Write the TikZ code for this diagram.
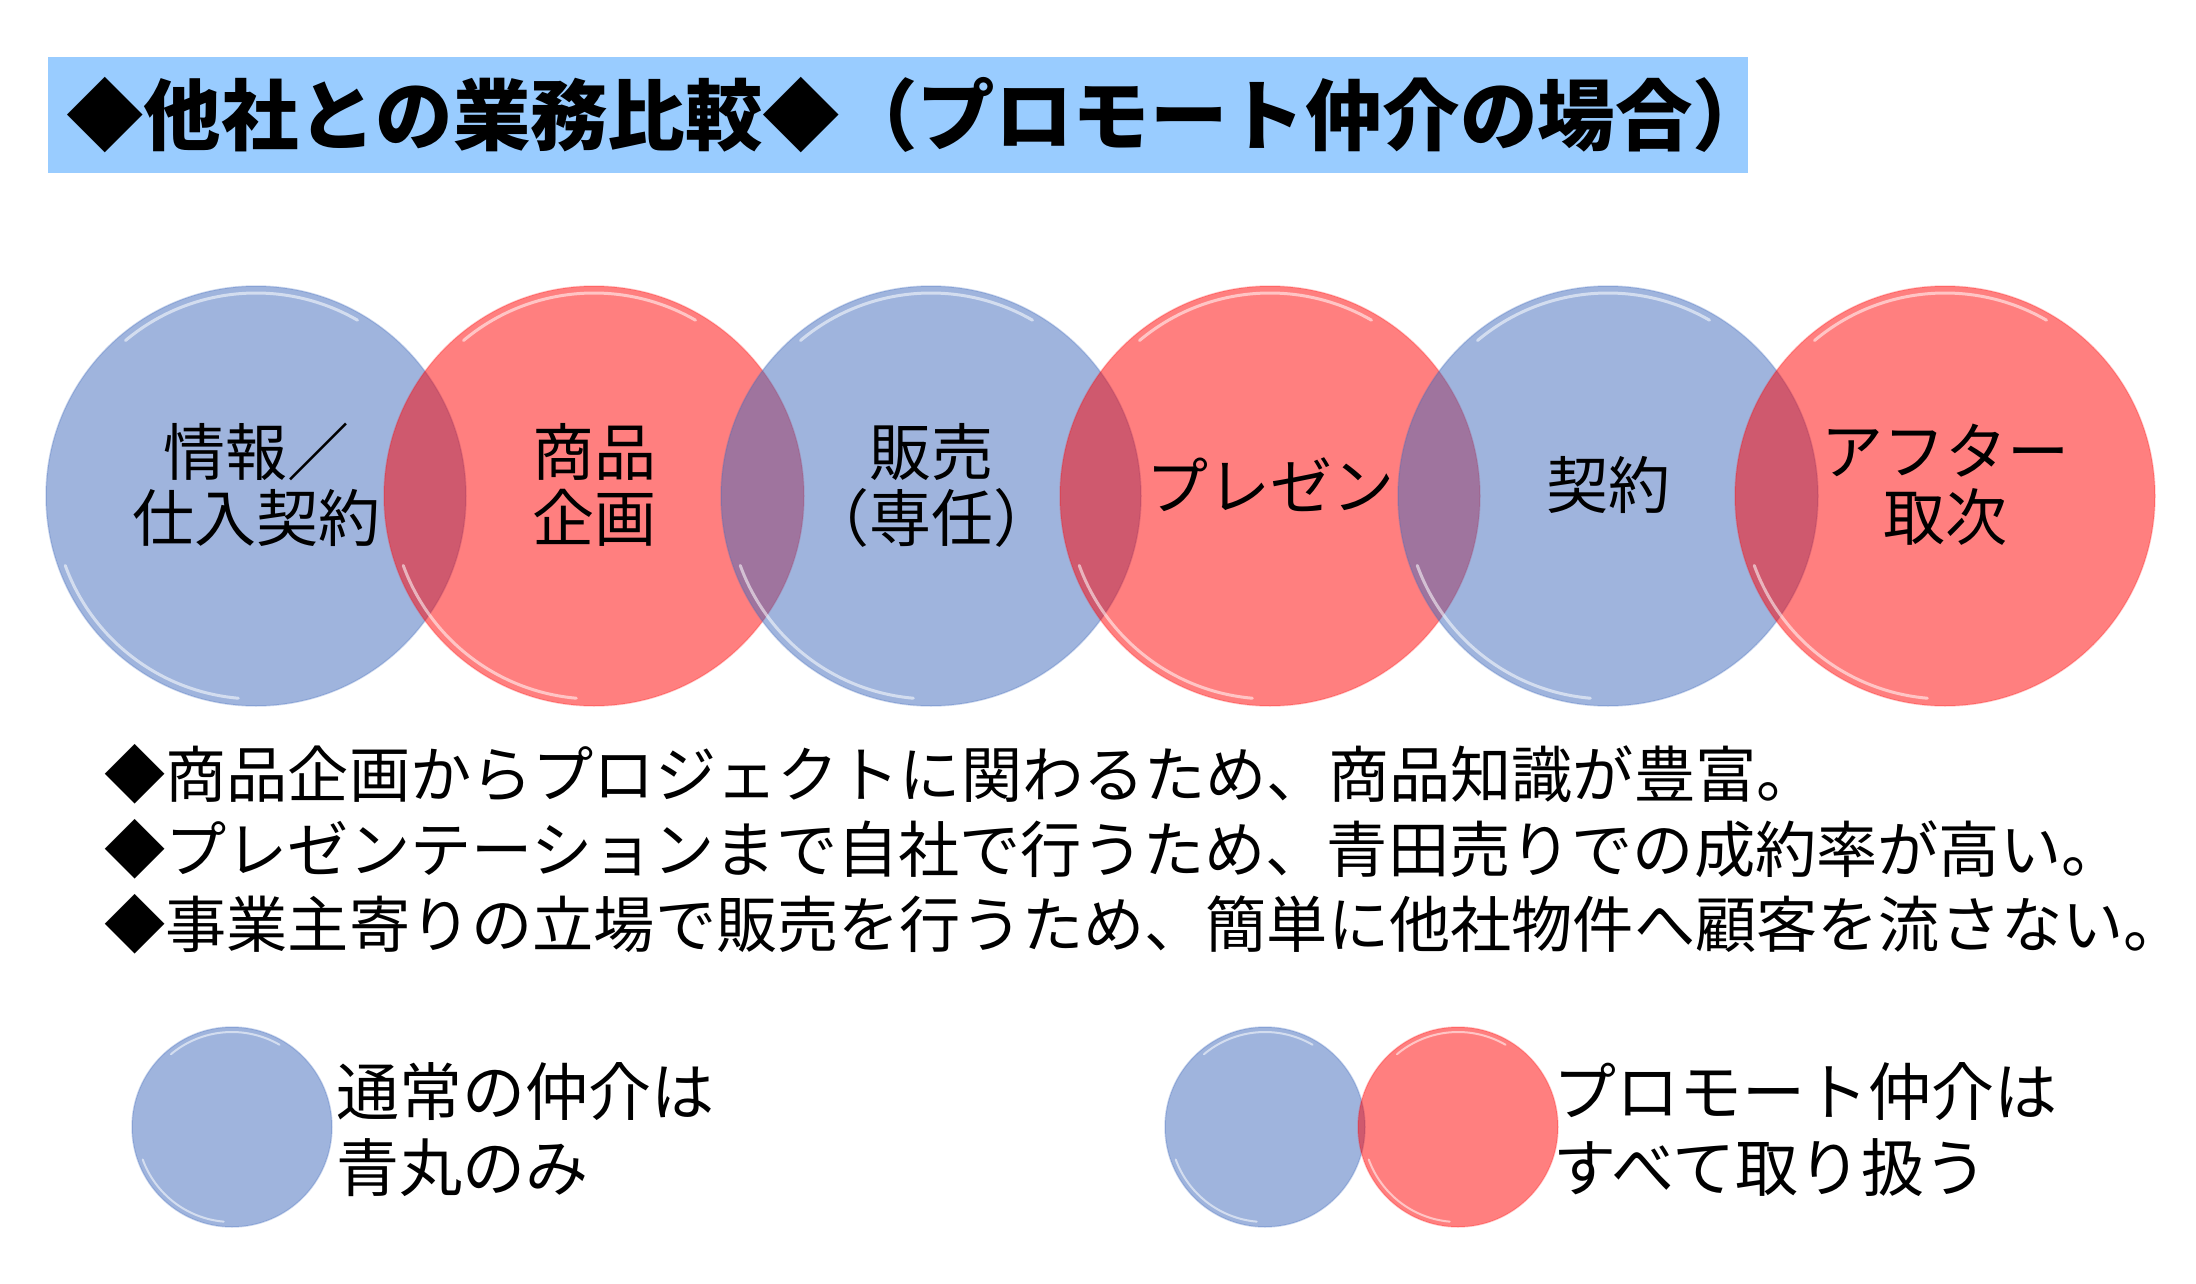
\documentclass[tikz,border=0pt]{standalone}
\usepackage{fontspec}
\setmainfont{Noto Sans CJK JP}
\definecolor{titlebg}{RGB}{153,204,255}
\definecolor{blueC}{RGB}{65,107,189}
\definecolor{redC}{RGB}{255,0,0}
\tikzset{
  bc/.style={circle, inner sep=0pt, minimum size=#1, fill=blueC, fill opacity=0.5, draw=blueC, draw opacity=0.25, line width=1.5pt},
  rc/.style={circle, inner sep=0pt, minimum size=#1, fill=redC, fill opacity=0.5, draw=redC, draw opacity=0.2, line width=1.5pt},
  gloss/.style={white, opacity=0.55, line width=3pt, line cap=round},
  lbl/.style={align=center, text=black, font=\fontsize{62}{66}\selectfont},
  bullet/.style={anchor=west, text=black, font=\fontsize{61.2}{66}\selectfont, inner sep=0pt},
  legtxt/.style={anchor=west, align=left, text=black, font=\fontsize{63}{76}\selectfont, inner sep=0pt},
}
\begin{document}
\begin{tikzpicture}[x=1pt,y=-1pt]
\useasboundingbox (0,0) rectangle (2196,1284);
\fill[white] (0,0) rectangle (2196,1284);
% title
\node[fill=titlebg, minimum width=1700pt, minimum height=116pt, anchor=north west, inner sep=0pt] (bar) at (48,57) {};
\node[anchor=west, inner sep=0pt, font=\fontsize{77.5}{80}\selectfont\bfseries] (title) at (66,115) {◆他社との業務比較◆（プロモート仲介の場合）};
% circles
\node[bc=420pt] (c1) at (256,496) {};
\node[rc=420pt] (c2) at (594,496) {};
\node[bc=420pt] (c3) at (931,496) {};
\node[rc=420pt] (c4) at (1270,496) {};
\node[bc=420pt] (c5) at (1608,496) {};
\node[rc=420pt] (c6) at (1945,496) {};
\foreach \c in {c1,c2,c3,c4,c5,c6}{
  \draw[gloss] ([shift={(-130:203)}]\c.center) arc[start angle=-130, end angle=-60, radius=203];
  \draw[gloss] ([shift={(95:203)}]\c.center) arc[start angle=95, end angle=160, radius=203];
}
\node[lbl] (t1) at (256,485) {情報／\\仕入契約};
\node[lbl] (t2) at (594,485) {商品\\企画};
\node[lbl] (t3) at (931,485) {販売\\（専任）};
\node[lbl] (t4) at (1270,485) {プレゼン};
\node[lbl] (t5) at (1608,485) {契約};
\node[lbl] (t6) at (1945,485) {アフター\\取次};
% bullets
\node[bullet] (b1) at (104,774) {◆商品企画からプロジェクトに関わるため、商品知識が豊富。};
\node[bullet] (b2) at (104,849) {◆プレゼンテーションまで自社で行うため、青田売りでの成約率が高い。};
\node[bullet] (b3) at (104,924) {◆事業主寄りの立場で販売を行うため、簡単に他社物件へ顧客を流さない。};
% legend
\node[bc=200pt] (l1) at (232,1127) {};
\node[bc=200pt] (l2) at (1265,1127) {};
\node[rc=200pt] (l3) at (1458,1127) {};
\foreach \c in {l1,l2,l3}{
  \draw[gloss, line width=2pt] ([shift={(-130:95)}]\c.center) arc[start angle=-130, end angle=-60, radius=95];
  \draw[gloss, line width=2pt] ([shift={(95:95)}]\c.center) arc[start angle=95, end angle=160, radius=95];
}
\node[legtxt] (lt1) at (336,1130) {通常の仲介は\\青丸のみ};
\node[legtxt] (lt2) at (1553,1130) {プロモート仲介は\\すべて取り扱う};
\end{tikzpicture}
\end{document}
